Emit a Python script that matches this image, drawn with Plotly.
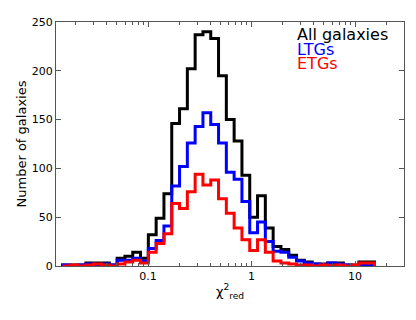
"""Reduced chi-square distribution for all galaxies, LTGs and ETGs."""

import numpy as np
import plotly.graph_objects as go

# 40 log-spaced bins of chi2_red
log_lo, log_hi, n_bins = -1.826, 1.188, 40
bin_edges = np.logspace(log_lo, log_hi, n_bins + 1)

all_counts = [1, 1, 1, 3, 3, 3, 1, 8, 10, 14,
              8, 32, 49, 74, 146, 161, 202, 237, 240, 233,
              195, 150, 128, 93, 50, 72, 39, 20, 17, 11,
              6, 4, 2, 2, 3, 3, 1, 1, 4, 4]
ltg_counts = [1, 0, 1, 2, 1, 2, 1, 6, 6, 8,
              5, 18, 26, 41, 82, 102, 126, 143, 157, 145,
              126, 96, 89, 66, 34, 45, 25, 15, 14, 9,
              5, 3, 2, 1, 3, 2, 1, 0, 1, 1]
etg_counts = [0, 1, 0, 1, 2, 1, 0, 2, 4, 6,
              3, 14, 23, 33, 64, 59, 76, 94, 83, 88,
              69, 54, 39, 27, 16, 27, 14, 5, 3, 2,
              1, 1, 0, 1, 0, 1, 0, 1, 3, 3]

series = [
    ("All galaxies", all_counts, "black"),
    ("LTGs", ltg_counts, "blue"),
    ("ETGs", etg_counts, "red"),
]

fig = go.Figure()
for name, counts, color in series:
    # step outline: drop to zero at both ends like histtype='step'
    xs = [bin_edges[0]] + list(bin_edges) + [bin_edges[-1]]
    ys = [0] + list(counts) + [counts[-1], 0]
    fig.add_trace(go.Scatter(
        x=xs, y=ys, mode="lines", name=name,
        line=dict(color=color, width=3, shape="hv"),
        showlegend=False,
    ))

# text-only legend in the top right corner
for i, (name, _, color) in enumerate(series):
    fig.add_annotation(
        text=name, xref="paper", yref="paper", x=0.69, y=0.99 - i * 0.058,
        xanchor="left", yanchor="top", showarrow=False, borderpad=0,
        font=dict(size=16, color=color, family="DejaVu Sans"),
    )

axis_common = dict(
    showline=True, linecolor="#555", linewidth=1, mirror="allticks",
    ticks="inside", tickcolor="#555", ticklen=5, showgrid=False,
    zeroline=False, tickfont=dict(size=11, color="black"),
)

fig.update_xaxes(
    type="log", range=[np.log10(0.0129), np.log10(29.7)],
    tickvals=[0.1, 1, 10], ticktext=["0.1", "1", "10"],
    minor=dict(ticks="inside", ticklen=3, tickcolor="#555",
               tickvals=[k * 10.0 ** p for p in (-2, -1, 0, 1) for k in range(2, 10)]),
    title=dict(text="χ<sup>2</sup><sub>red</sub>", font=dict(size=13), standoff=4),
    **axis_common,
)
fig.update_yaxes(
    range=[0, 250], tickvals=[0, 50, 100, 150, 200, 250],
    title=dict(text="Number of galaxies", font=dict(size=13), standoff=2),
    **axis_common,
)

# the page body adds an 8px offset, so the figure is 8px smaller than the window
fig.update_layout(
    width=408, height=312,
    margin=dict(l=48, r=12, t=8, b=54),
    plot_bgcolor="white", paper_bgcolor="white",
    font=dict(family="DejaVu Sans", color="black"),
)

fig.write_html("out.html")
